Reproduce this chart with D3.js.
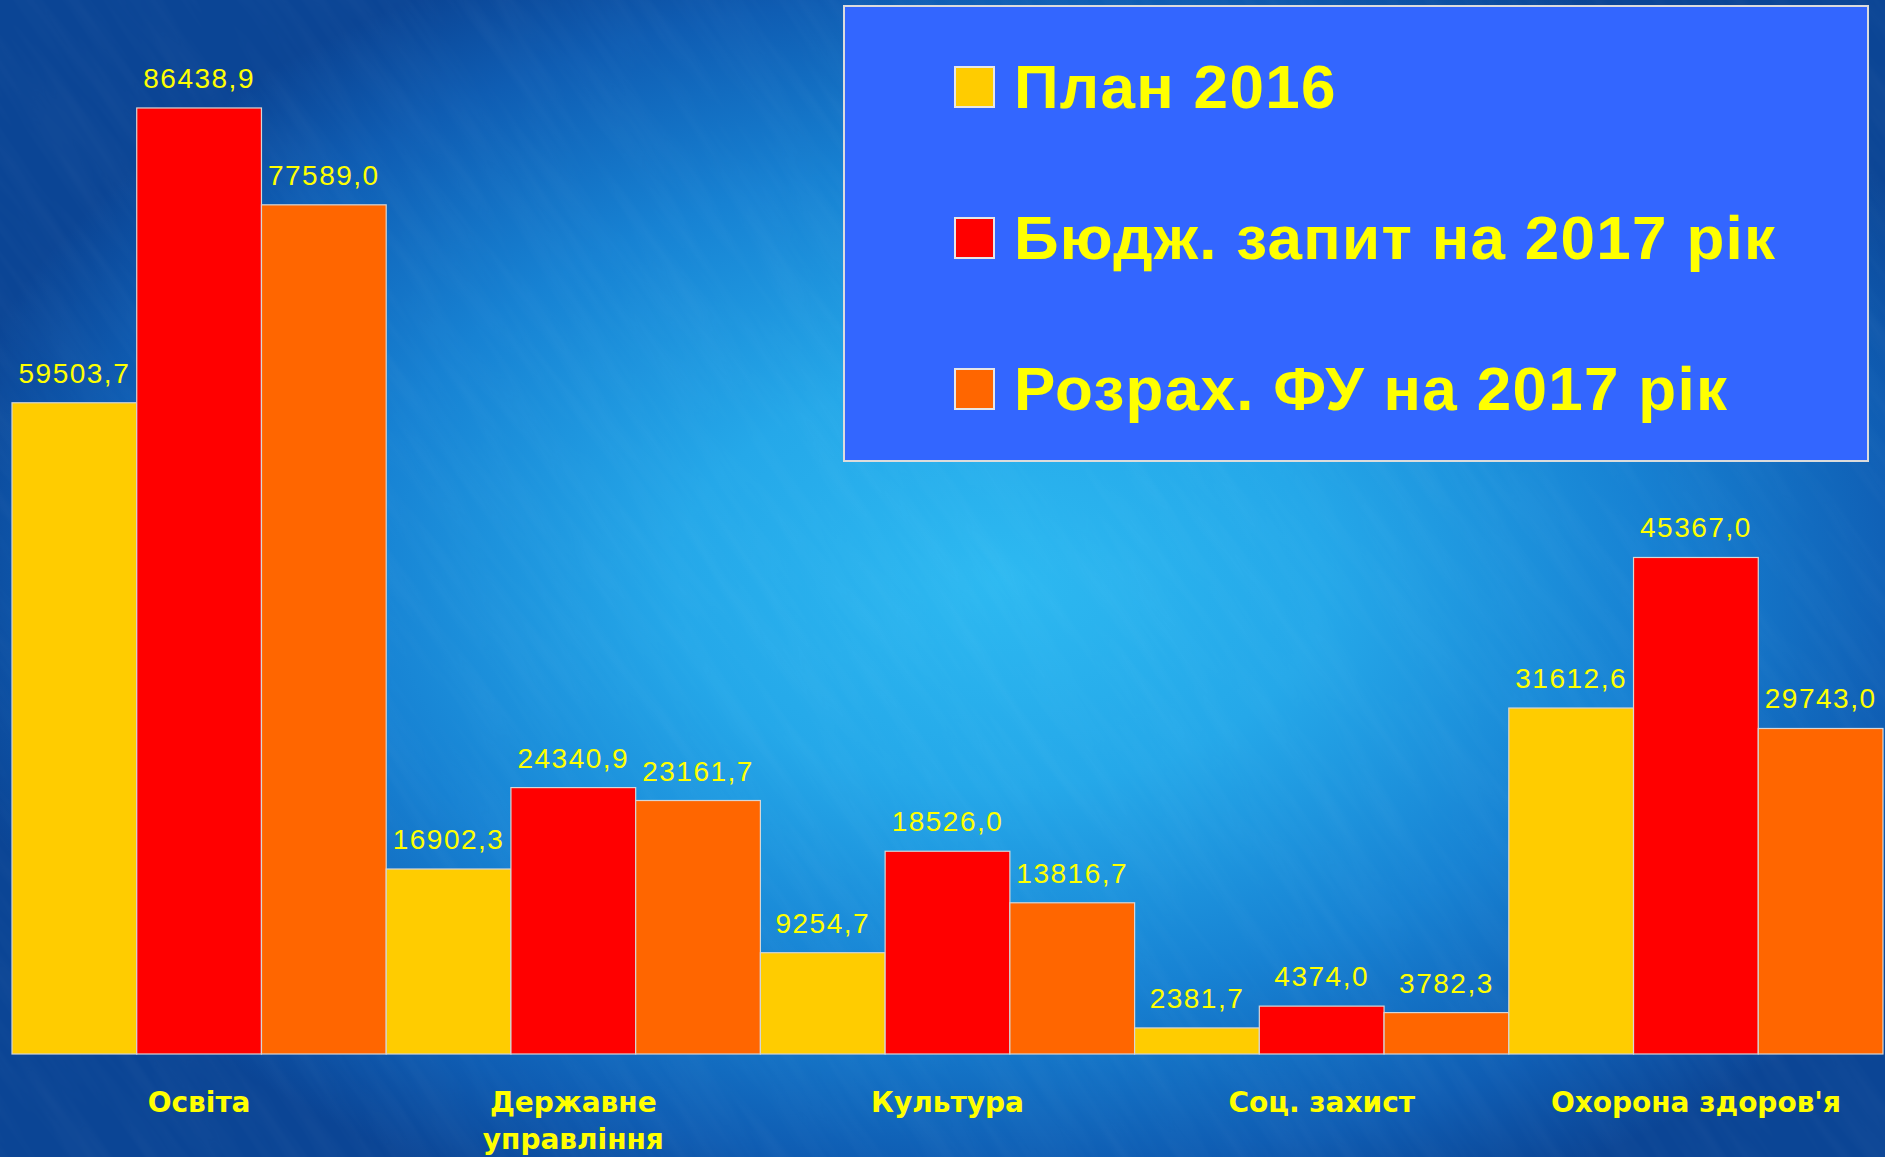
<!DOCTYPE html>
<html>
<head>
<meta charset="utf-8">
<script src="https://cdn.jsdelivr.net/npm/d3@7"></script>
<style>
  html, body { margin: 0; padding: 0; overflow: hidden; background: #0a3f8a; }
</style>
</head>
<body>
<script>
// budget data, thousand UAH
var categories = ["Освіта", "Державне управління", "Культура", "Соц. захист", "Охорона здоров'я"];
var tickLines = [["Освіта"], ["Державне", "управління"], ["Культура"], ["Соц. захист"], ["Охорона здоров'я"]];
var seriesNames = ["План 2016", "Бюдж. запит на 2017 рік", "Розрах. ФУ на 2017 рік"];
var plan2016 = [59503.7, 16902.3, 9254.7, 2381.7, 31612.6];
var request2017 = [86438.9, 24340.9, 18526.0, 4374.0, 45367.0];
var calc2017 = [77589.0, 23161.7, 13816.7, 3782.3, 29743.0];
var seriesColors = ["#FFCC00", "#FF0000", "#FF6600"];

var W = 1885, H = 1157;

var svg = d3.select("body").append("svg")
    .attr("width", W)
    .attr("height", H);

// background: blue glow, darker toward the edges
var defs = svg.append("defs");
var bg = defs.append("radialGradient")
    .attr("id", "bg")
    .attr("gradientUnits", "userSpaceOnUse")
    .attr("cx", 1000).attr("cy", 580).attr("r", 1080)
    .attr("gradientTransform", "translate(1000,580) scale(1,0.64) translate(-1000,-580)");
[[0, "#2db9f1"], [0.3, "#25a8e9"], [0.6, "#1782d3"], [0.85, "#0f5db3"], [1, "#0b4595"]].forEach(function(s) {
    bg.append("stop").attr("offset", s[0]).attr("stop-color", s[1]);
});
var tex = defs.append("filter").attr("id", "tex")
    .attr("x", 0).attr("y", 0).attr("width", "100%").attr("height", "100%");
tex.append("feTurbulence").attr("type", "fractalNoise")
    .attr("baseFrequency", "0.006 0.06").attr("numOctaves", 3).attr("seed", 7);
tex.append("feColorMatrix").attr("type", "matrix")
    .attr("values", "0 0 0 0 1  0 0 0 0 1  0 0 0 0 1  0 0 0 0.3 -0.1");

svg.append("rect").attr("width", W).attr("height", H).attr("fill", "url(#bg)");
// faint diagonal texture
svg.append("rect")
    .attr("x", -600).attr("y", -900).attr("width", 3100).attr("height", 3000)
    .attr("transform", "rotate(55 942 578)")
    .attr("filter", "url(#tex)").attr("opacity", 0.18);

// scales
var x0 = d3.scaleBand().domain(categories).range([12, 1883]).padding(0);
var x1 = d3.scaleBand().domain(seriesNames).range([0, x0.bandwidth()]).padding(0);
var y = d3.scaleLinear().domain([0, 90000]).range([1054, 69]);

var allSeries = [plan2016, request2017, calc2017];
var rows = categories.map(function(c, i) {
    return {
        cat: c,
        vals: seriesNames.map(function(s, j) { return {s: s, v: allSeries[j][i], color: seriesColors[j]}; })
    };
});

var fmt = function(v) { return d3.format(".1f")(v).replace(".", ","); };

var groups = svg.selectAll("g.grp")
    .data(rows)
    .enter()
    .append("g")
    .attr("class", "grp")
    .attr("transform", function(d) { return "translate(" + x0(d.cat) + ",0)"; });

groups.selectAll("rect")
    .data(function(d) { return d.vals; })
    .enter()
    .append("rect")
    .attr("x", function(d) { return x1(d.s); })
    .attr("y", function(d) { return y(d.v); })
    .attr("width", x1.bandwidth())
    .attr("height", function(d) { return y(0) - y(d.v); })
    .attr("fill", function(d) { return d.color; })
    .attr("stroke", "#d6d6d6")
    .attr("stroke-width", 1.2);

groups.selectAll("text.val")
    .data(function(d) { return d.vals; })
    .enter()
    .append("text")
    .attr("class", "val")
    .attr("x", function(d) { return x1(d.s) + x1.bandwidth() / 2; })
    .attr("y", function(d) { return y(d.v) - 20; })
    .attr("text-anchor", "middle")
    .attr("font-family", "'Liberation Sans', Arial, sans-serif")
    .attr("font-size", 28)
    .attr("letter-spacing", 1.5)
    .attr("fill", "#FFFF00")
    .text(function(d) { return fmt(d.v); });

// category labels under the bars
var ticks = svg.selectAll("text.cat")
    .data(categories)
    .enter()
    .append("text")
    .attr("class", "cat")
    .attr("x", function(d) { return x0(d) + x0.bandwidth() / 2; })
    .attr("y", 1112)
    .attr("text-anchor", "middle")
    .attr("font-family", "'DejaVu Sans', Verdana, sans-serif")
    .attr("font-weight", "bold")
    .attr("font-size", 28)
    .attr("fill", "#FFFF00");
ticks.selectAll("tspan")
    .data(function(d, i) { return tickLines[i]; })
    .enter()
    .append("tspan")
    .attr("x", function() { var p = d3.select(this.parentNode).datum(); return x0(p) + x0.bandwidth() / 2; })
    .attr("dy", function(d, i) { return i === 0 ? 0 : 37; })
    .text(function(d) { return d; });

// legend box
var legend = svg.append("g");
legend.append("rect")
    .attr("x", 844).attr("y", 6)
    .attr("width", 1024).attr("height", 455)
    .attr("fill", "#3366FF")
    .attr("stroke", "#dcdcdc")
    .attr("stroke-width", 2);

var items = legend.selectAll("g.item")
    .data(seriesNames)
    .enter()
    .append("g")
    .attr("class", "item")
    .attr("transform", function(d, i) { return "translate(0," + (i * 151) + ")"; });

items.append("rect")
    .attr("x", 955).attr("y", 67)
    .attr("width", 39).attr("height", 40)
    .attr("fill", function(d, i) { return seriesColors[i]; })
    .attr("stroke", "#e6e6e6")
    .attr("stroke-width", 2);

items.append("text")
    .attr("x", 1014).attr("y", 108)
    .attr("font-family", "'Liberation Sans', Arial, sans-serif")
    .attr("font-weight", "bold")
    .attr("font-size", 62)
    .attr("letter-spacing", 1.3)
    .attr("fill", "#FFFF00")
    .text(function(d) { return d; });
</script>
</body>
</html>
